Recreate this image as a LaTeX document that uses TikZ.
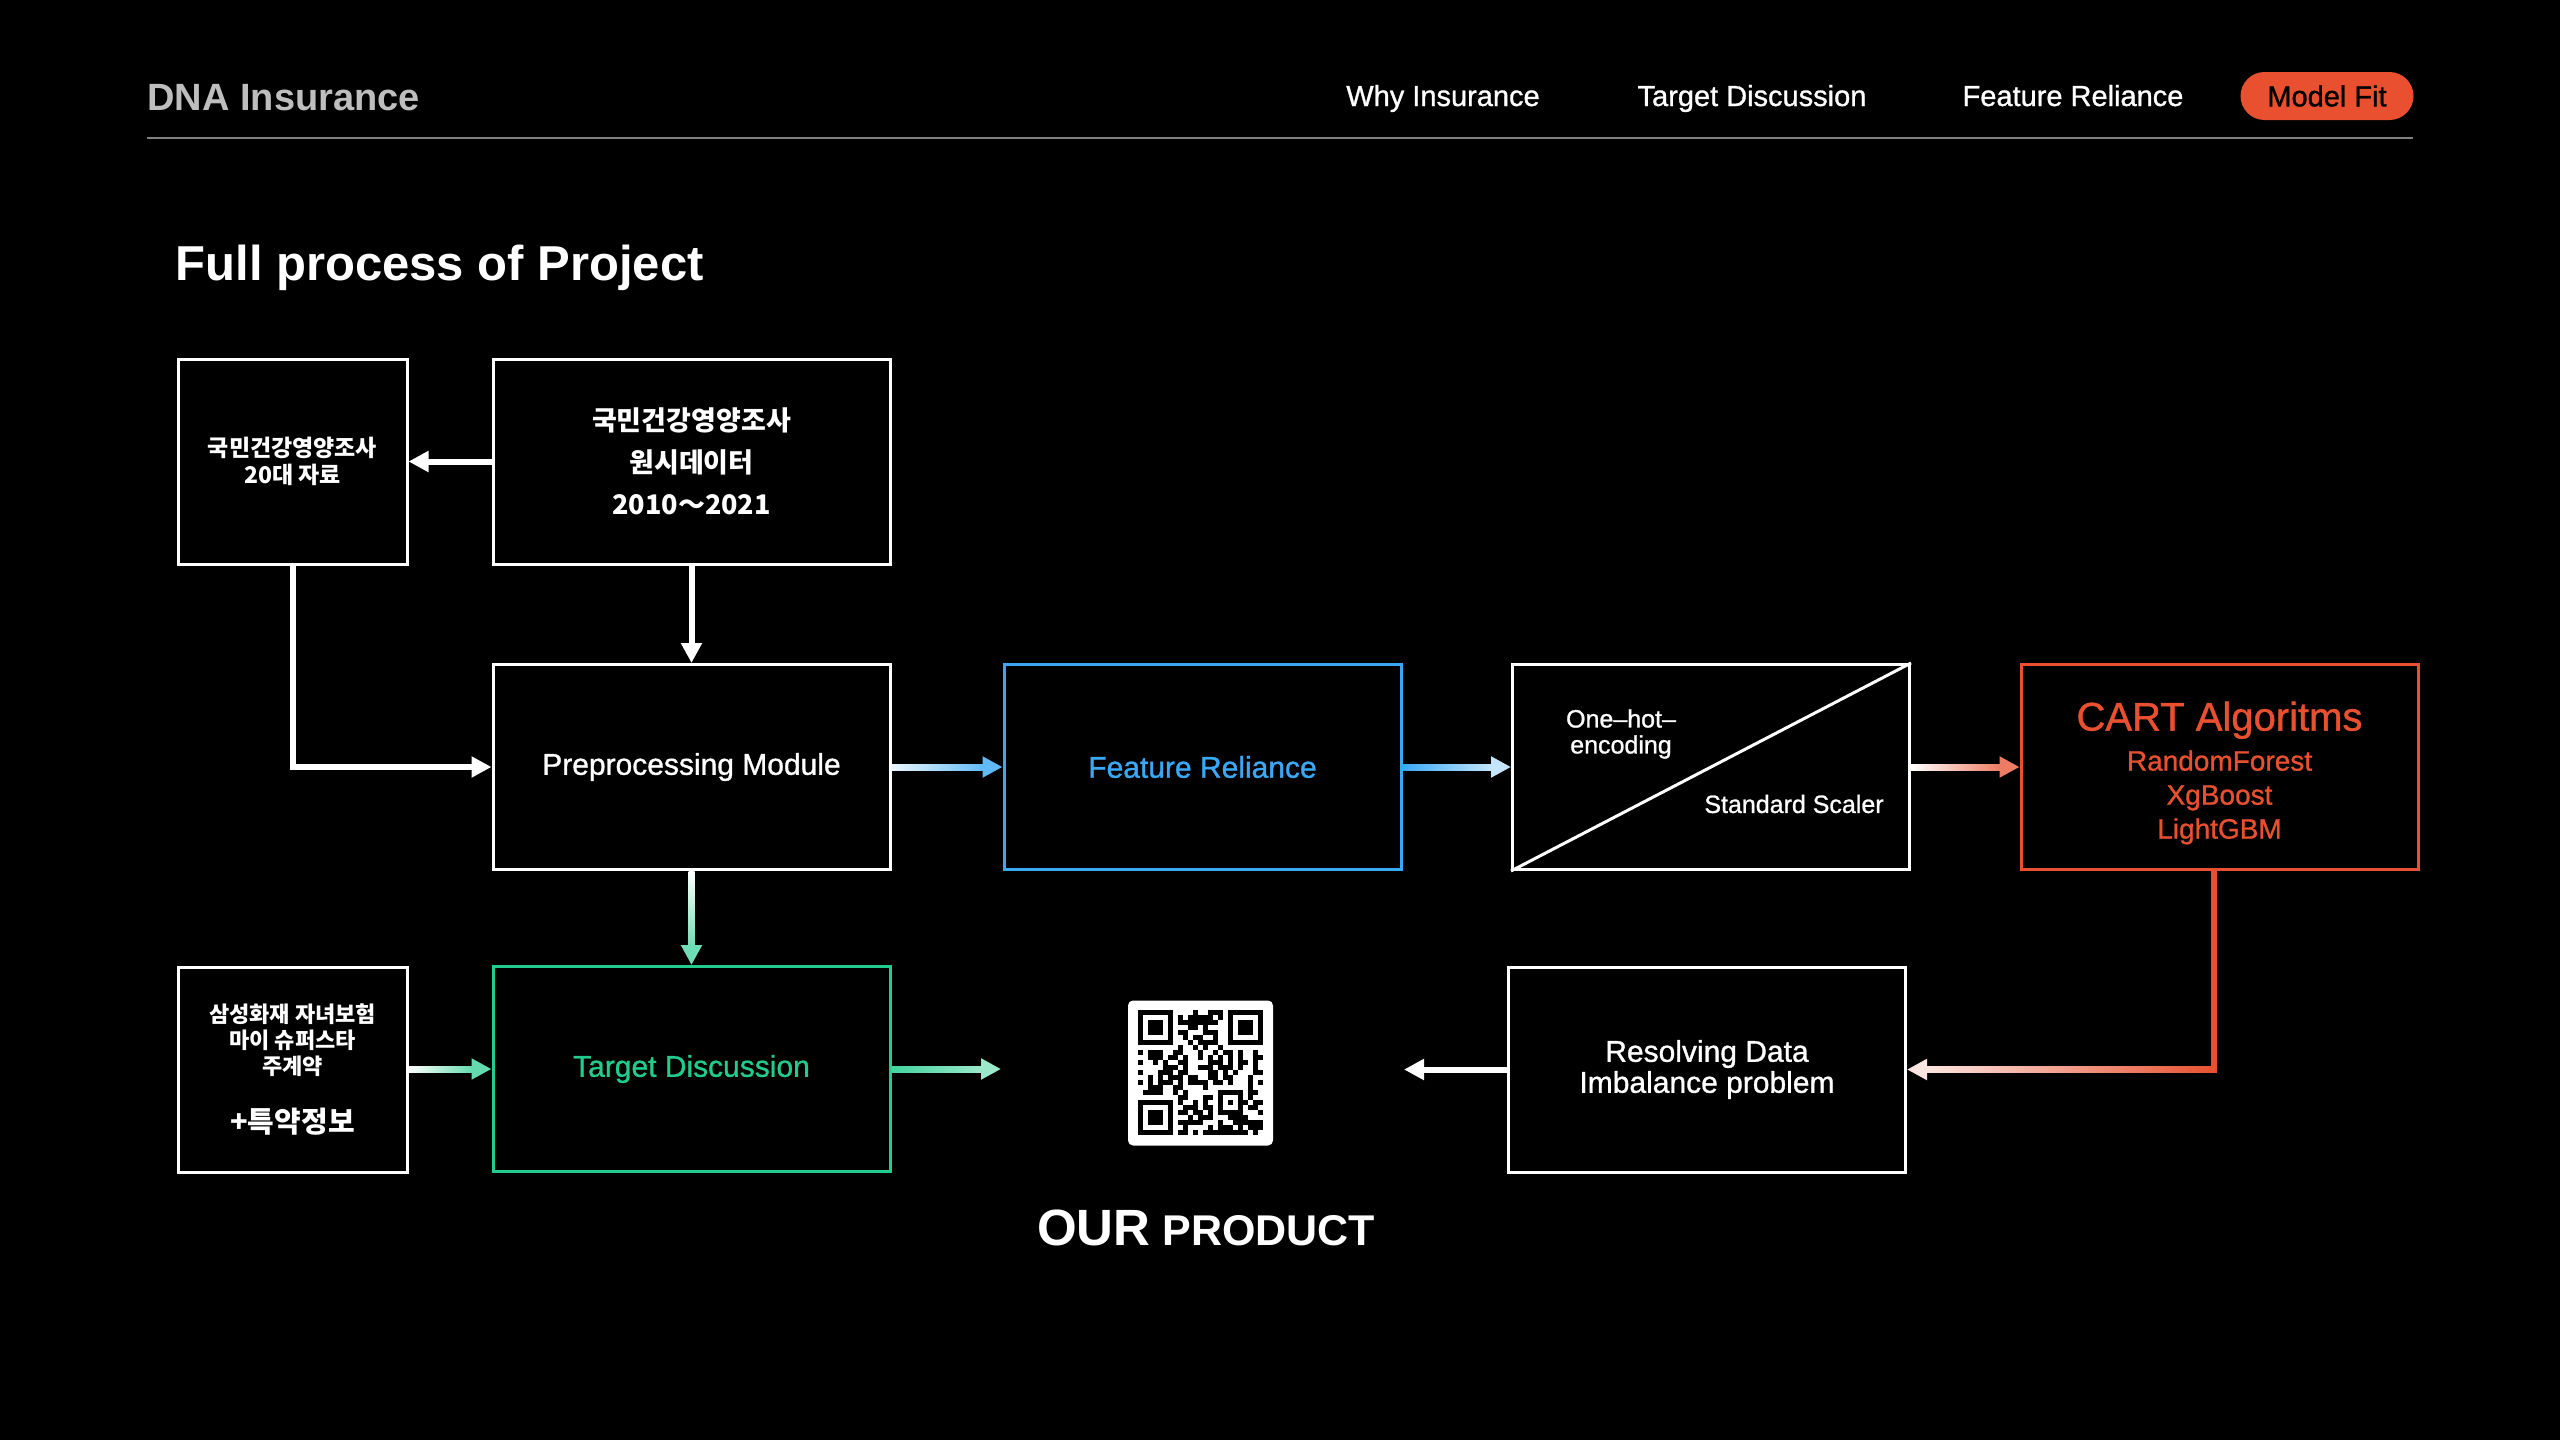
\documentclass[tikz,border=0pt]{standalone}
\usepackage{fontspec}
\setmainfont{Liberation Sans}
\newfontfamily\medfont{Liberation Sans}[FakeBold=1]
\newfontfamily\kr{Noto Sans CJK KR}
\usetikzlibrary{arrows.meta,calc}

\definecolor{featblue}{HTML}{3AA8F5}
\definecolor{tgtgreen}{HTML}{22CC8C}
\definecolor{fitred}{HTML}{E8502F}
\definecolor{navgrey}{HTML}{BEBEBE}
\definecolor{rulegrey}{HTML}{7F7F7F}

\begin{document}
\begin{tikzpicture}[x=1pt,y=-1pt,
  box/.style={draw=white,line width=3pt,fill=black,text=white,align=center,
    minimum width=397pt,minimum height=205pt,inner sep=0pt},
  smallbox/.style={box,minimum width=229pt},
  flow/.style={line width=6pt,-{Triangle[length=20pt,width=20pt]}},
  navtext/.style={anchor=base,text=white,font=\medfont\fontsize{29}{29}\selectfont}]
\fill[black] (0,0) rectangle (2560,1440);
\useasboundingbox (0,0) rectangle (2560,1440);

% header
\node[anchor=west,text=navgrey,font=\bfseries\fontsize{38}{38}\selectfont] (brand) at (144,98) {DNA Insurance};
\node[navtext] (why) at (1443,106) {Why Insurance};
\node[navtext] (navtarget) at (1752,106) {Target Discussion};
\node[navtext] (navfeat) at (2073,106) {Feature Reliance};
\node[fill=fitred,rounded corners=24pt,minimum width=173pt,minimum height=48pt,
  font=\medfont\fontsize{29}{29}\selectfont] (navfit) at (2327,96) {Model Fit};
\draw[rulegrey,line width=2pt] (147,138) -- (2413,138);
\node[anchor=west,text=white,font=\bfseries\fontsize{49}{49}\selectfont] (title) at (172,268) {Full process of Project};

% boxes
\node[smallbox,font=\kr\bfseries\fontsize{23}{27}\selectfont] (age20) at (292.5,461.5) {국민건강영양조사\\20대 자료};
\node[box,font=\kr\bfseries\fontsize{27}{42}\selectfont] (raw) at (691.5,461.5) {국민건강영양조사\\원시데이터\\2010～2021};
\node[box,font=\medfont\fontsize{30}{30}\selectfont] (prep) at (691.5,767) {Preprocessing Module};
\node[box,draw=featblue,text=featblue,font=\medfont\fontsize{30}{30}\selectfont] (feat) at (1202.5,767) {Feature Reliance};
\node[box] (enc) at (1711,767) {};
\draw[white,line width=3pt] (enc.south west) -- (enc.north east);
\node[text=white,align=center,font=\medfont\fontsize{25}{26}\selectfont] (onehot) at (1621,734) {One–hot–\\encoding};
\node[text=white,font=\medfont\fontsize{25}{25}\selectfont] (scaler) at (1794,804) {Standard Scaler};
\node[box,draw=fitred] (cart) at (2219.5,767) {};
\node[text=fitred,align=center,font=\medfont\fontsize{28}{34}\selectfont] (cartlist) at (2219.5,773)
  {{\fontsize{40}{40}\selectfont CART Algoritms}\\[6pt]RandomForest\\XgBoost\\LightGBM};

\node[smallbox,font=\kr\bfseries\fontsize{22}{26}\selectfont] (samsung) at (292.5,1069.5)
  {삼성화재 자녀보험\\마이 슈퍼스타\\주계약\\[30pt]{\fontsize{29}{29}\selectfont +특약정보}};
\node[box,draw=tgtgreen,text=tgtgreen,font=\medfont\fontsize{30}{30}\selectfont] (target) at (691.5,1069) {Target Discussion};
\node[box,font=\medfont\fontsize{30}{31}\selectfont] (resolve) at (1707,1069.5) {Resolving Data\\Imbalance problem};

% qr code
\node[fill=white,rounded corners=5pt,minimum size=145pt,inner sep=0pt] (qr) at (1200.5,1073) {};
\begin{scope}[shift={(qr.north west)}]
  \foreach \fx/\fy in {0/0,18/0,0/18}{
    \fill (10+5*\fx,10+5*\fy) rectangle +(35,35);
    \fill[white] (15+5*\fx,15+5*\fy) rectangle +(25,25);
    \fill (20+5*\fx,20+5*\fy) rectangle +(15,15);
  }
  \fill (90,90) rectangle +(25,25);
  \fill[white] (95,95) rectangle +(15,15);
  \fill (100,100) rectangle +(5,5);
  \pgfmathsetseed{2023}
  \foreach \i in {0,...,24}{
    \foreach \j in {0,...,24}{
      \pgfmathtruncatemacro{\qrskip}{((\i<8)&&(\j<8))||((\i>16)&&(\j<8))||((\i<8)&&(\j>16))||((\i>14)&&(\i<21)&&(\j>14)&&(\j<21))}
      \pgfmathrandominteger{\qrbit}{0}{1}
      \ifnum\qrskip=0 \ifnum\qrbit=1 \fill (10+5*\i,10+5*\j) rectangle +(5,5); \fi\fi
    }
  }
\end{scope}
\node[text=white,font=\bfseries\fontsize{43}{43}\selectfont] (product) at (1206,1228) {{\fontsize{51}{51}\selectfont OUR} PRODUCT};

% connectors
\draw[flow,white] (raw) -- (age20);
\draw[flow,white] (raw) -- (prep);
\draw[flow,white] (age20.south) |- (prep.west);

\shade[left color=white!90!featblue,right color=featblue!80!white] ($(prep.east)+(0,-3)$) rectangle ($(feat.west)+(-19,3)$);
\draw[flow,featblue!80!white] ($(feat.west)+(-20,0)$) -- (feat.west);

\shade[left color=featblue,right color=featblue!30!white] ($(feat.east)+(0,-3)$) rectangle ($(enc.west)+(-19,3)$);
\draw[flow,featblue!30!white] ($(enc.west)+(-20,0)$) -- (enc.west);

\shade[left color=white,right color=fitred!75!white] ($(enc.east)+(0,-3)$) rectangle ($(cart.west)+(-19,3)$);
\draw[flow,fitred!75!white] ($(cart.west)+(-20,0)$) -- (cart.west);

\shade[top color=white,bottom color=tgtgreen!65!white] ($(prep.south)+(-3,0)$) rectangle ($(target.north)+(3,-19)$);
\draw[flow,tgtgreen!65!white] ($(target.north)+(0,-20)$) -- (target.north);

\shade[left color=white,right color=tgtgreen!70!white] ($(samsung.east)+(0,-3)$) rectangle ($(target.west)+(-19,3)$);
\draw[flow,tgtgreen!70!white] ($(target.west)+(-20,0)$) -- (target.west);

\coordinate (qrin) at (1001,1069);
\shade[left color=tgtgreen!85!white,right color=tgtgreen!45!white] ($(target.east)+(0,-3)$) rectangle ($(qrin)+(-19,3)$);
\draw[flow,tgtgreen!45!white] ($(qrin)+(-20,0)$) -- (qrin);

\coordinate (qrout) at (1404,1069.5);
\draw[flow,white] (resolve.west) -- (qrout);

\coordinate (bend) at (2214,1069.5);
\draw[fitred,line width=6pt] (cart.south -| bend) -- ($(bend)+(0,3)$);
\shade[left color=fitred!15!white,right color=fitred] ($(resolve.east)+(19,-3)$) rectangle ($(bend)+(3,3)$);
\draw[flow,fitred!15!white] ($(resolve.east)+(20,0)$) -- (resolve.east);
\end{tikzpicture}
\end{document}
